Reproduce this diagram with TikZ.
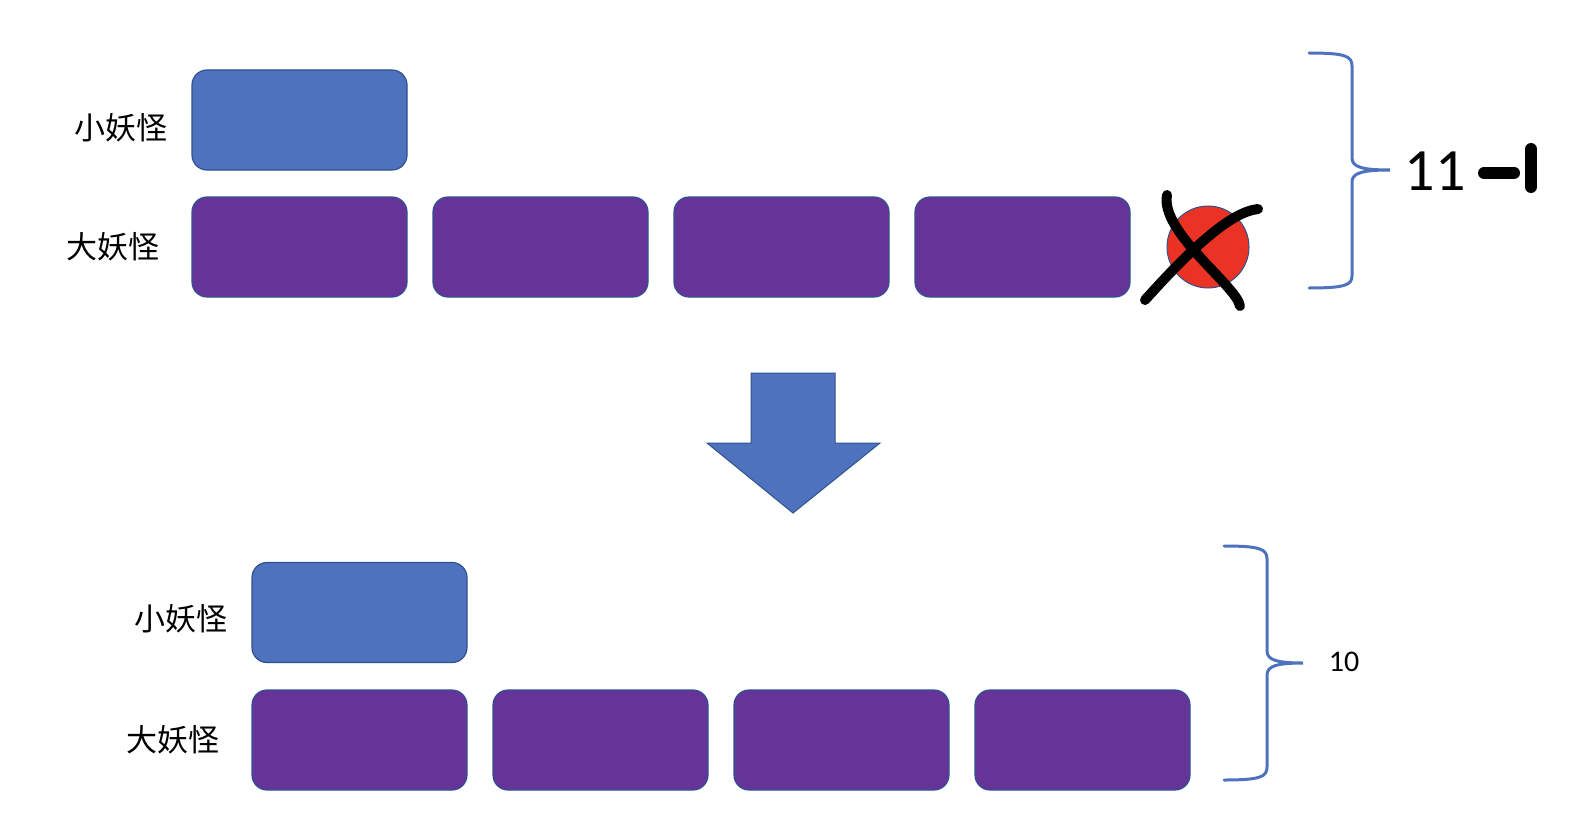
\documentclass[tikz,border=0pt]{standalone}
\usepackage{fontspec}
\newfontfamily\cjk{Noto Sans CJK SC}
\newfontfamily\numfont{Carlito}
\usetikzlibrary{positioning}
\usetikzlibrary{calc}

\definecolor{boxblue}{RGB}{79,114,190}
\definecolor{edgeblue}{RGB}{47,82,143}
\definecolor{monpurple}{RGB}{102,51,153}
\definecolor{dotred}{RGB}{234,51,36}

\begin{document}
\begin{tikzpicture}[
                x=1pt, y=-1pt,
                node distance=26pt,
                box/.style={draw=edgeblue, line width=1.2pt, rounded corners=15pt, minimum width=215pt, minimum height=100pt, inner sep=0pt, outer sep=0pt},
                smallbox/.style={box, fill=boxblue},
                bigbox/.style={box, fill=monpurple},
                tag/.style={font=\cjk\fontsize{31}{31}\selectfont, inner sep=0pt},
                curly/.style={draw=boxblue, line width=3pt, line cap=round},
                stroke/.style={line width=10pt, line cap=round}
            ]

            \useasboundingbox (0,0) rectangle (1574,824);

            % Define nodes (before)
            \node[smallbox] (s1) at (299.5,120) {};
            \node[bigbox] (b1) at (299.5,247) {};
            \node[bigbox, right=of b1] (b2) {};
            \node[bigbox, right=of b2] (b3) {};
            \node[bigbox, right=of b3] (b4) {};
            \node[tag, left=24pt of s1, yshift=-8pt] (ls1) {小妖怪};
            \node[tag, left=32pt of b1] (lb1) {大妖怪};
            \node[circle, draw=edgeblue, line width=1pt, fill=dotred, minimum size=82pt, inner sep=0pt] (dot) at (1208,247) {};

            % Cross over the red one
            \draw[stroke] (1167,195) .. controls (1160,232) and (1236,285) .. (1240,306);
            \draw[stroke] (1145,300) .. controls (1190,250) and (1230,212) .. (1258,209);

            % Curly brace (before)
            \draw[curly] (1309,53) .. controls (1345,53) and (1352,56) .. (1352,66) -- (1352,158)
                .. controls (1352,167) and (1362,170) .. (1390,170)
                .. controls (1362,170) and (1352,173) .. (1352,182) -- (1352,276)
                .. controls (1352,285) and (1345,288) .. (1309,288);
            \node[font=\numfont\fontsize{60}{60}\selectfont, inner sep=0pt] (n11) at (1435,171) {11};
            \draw[line width=12pt, line cap=round] (1484,173) -- (1514,173);
            \draw[line width=12pt, line cap=round] (1531,149) -- (1531,187);

            % Down arrow
            \draw[draw=edgeblue, line width=1pt, fill=boxblue] (751,373) -- (835,373) -- (835,443) -- (880,443)
                -- (793,513) -- (707,443) -- (751,443) -- cycle;

            % Define nodes (after)
            \node[smallbox] (s2) at (359.5,612.5) {};
            \node[bigbox] (c1) at (359.5,740) {};
            \node[bigbox, right=of c1] (c2) {};
            \node[bigbox, right=of c2] (c3) {};
            \node[bigbox, right=of c3] (c4) {};
            \node[tag, left=24pt of s2, yshift=-6pt] (ls2) {小妖怪};
            \node[tag, left=32pt of c1] (lc1) {大妖怪};

            % Curly brace (after)
            \draw[curly] (1224,546) .. controls (1260,546) and (1267,549) .. (1267,559) -- (1267,651)
                .. controls (1267,660) and (1277,663) .. (1303,663)
                .. controls (1277,663) and (1267,666) .. (1267,675) -- (1267,767)
                .. controls (1267,777) and (1260,780) .. (1224,780);
            \node[font=\numfont\fontsize{30}{30}\selectfont, inner sep=0pt] (n10) at (1344,662) {10};

        \end{tikzpicture}
\end{document}
